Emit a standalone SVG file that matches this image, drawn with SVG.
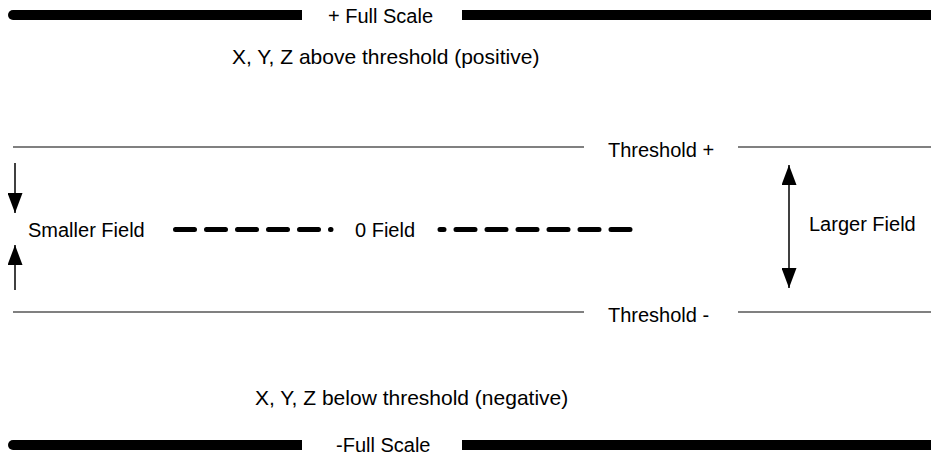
<svg xmlns="http://www.w3.org/2000/svg" width="931" height="457" viewBox="0 0 931 457">
<style>
  text { font-family: "Liberation Sans", Arial, sans-serif; fill: #000; }
  .lbl { font-size: 20px; }
  .big { font-size: 21px; }
  .bar { fill: #000; }
  .thr { stroke: #808080; stroke-width: 2; fill: none; }
  .dash { stroke: #000; stroke-width: 5; stroke-linecap: round; stroke-dasharray: 19 12; fill: none; }
  .arr { stroke: #000; stroke-width: 1.5; fill: none; }
</style>
<defs>
  <marker id="ah" viewBox="0 0 20 15" refX="20" refY="7.5" markerWidth="20" markerHeight="15" markerUnits="userSpaceOnUse" orient="auto-start-reverse">
    <path d="M0,0 L20,7.5 L0,15 Z" fill="#000"/>
  </marker>
</defs>
<rect width="931" height="457" fill="#fff"/>

<g id="full-scale-positive">
  <path class="bar" d="M302,10 H13 A5,5 0 0 0 13,20 H302 Z"/>
  <rect class="bar" x="462" y="10" width="469" height="10"/>
  <text class="lbl" x="328" y="23">+ Full Scale</text>
</g>

<g id="above-label">
  <text class="big" x="232" y="64">X, Y, Z above threshold (positive)</text>
</g>

<g id="threshold-positive">
  <line class="thr" x1="13" y1="147" x2="584" y2="147"/>
  <line class="thr" x1="738" y1="147" x2="931" y2="147"/>
  <text class="lbl" x="608" y="157">Threshold +</text>
</g>

<g id="threshold-negative">
  <line class="thr" x1="13" y1="312" x2="584" y2="312"/>
  <line class="thr" x1="738" y1="312" x2="931" y2="312"/>
  <text class="lbl" x="608" y="322">Threshold -</text>
</g>

<g id="smaller-field">
  <text class="lbl" x="28" y="237">Smaller Field</text>
</g>

<g id="zero-field">
  <text class="lbl" x="355" y="237">0 Field</text>
</g>

<g id="larger-field">
  <text class="lbl" x="809" y="231">Larger Field</text>
</g>

<g id="below-label">
  <text class="big" x="255" y="405">X, Y, Z below threshold (negative)</text>
</g>

<g id="full-scale-negative">
  <path class="bar" d="M302,440 H13 A5,5 0 0 0 13,450 H302 Z"/>
  <rect class="bar" x="462" y="440" width="469" height="10"/>
  <text class="lbl" x="336" y="452">-Full Scale</text>
</g>

<g id="connectors">
  <line class="dash" x1="175.5" y1="229.5" x2="331" y2="229.5"/>
  <line class="dash" x1="630" y1="229.5" x2="440" y2="229.5"/>
  <line class="arr" x1="15" y1="163" x2="15" y2="213" marker-end="url(#ah)"/>
  <line class="arr" x1="15" y1="290" x2="15" y2="245" marker-end="url(#ah)"/>
  <line class="arr" x1="789" y1="165" x2="789" y2="288" marker-start="url(#ah)" marker-end="url(#ah)"/>
</g>
</svg>
